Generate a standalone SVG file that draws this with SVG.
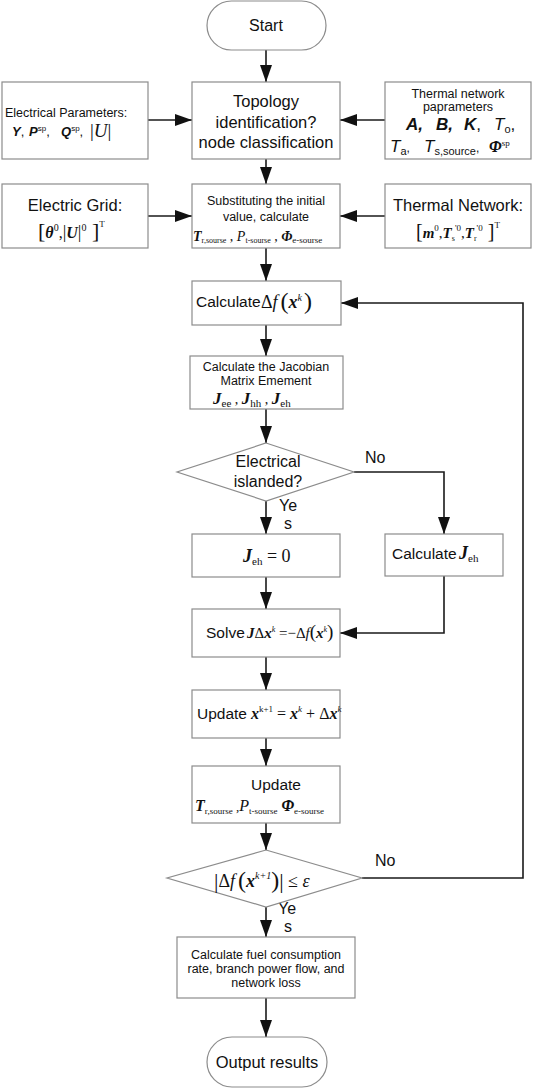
<svg xmlns="http://www.w3.org/2000/svg" width="533" height="1089" viewBox="0 0 533 1089">
<style>
.box{fill:#fff;stroke:#8c8c8c;stroke-width:1.2}
.ln{fill:none;stroke:#1a1a1a;stroke-width:1.6}
.s{font-family:"Liberation Sans",Arial,sans-serif;fill:#111}
.m{font-family:"Liberation Serif","Times New Roman",serif;fill:#111}
.bi{font-weight:bold;font-style:italic}
.it{font-style:italic}
.c{text-anchor:middle}
</style>
<defs>
<marker id="ah" markerUnits="userSpaceOnUse" viewBox="0 0 17 12" markerWidth="17" markerHeight="12" refX="17" refY="6" orient="auto">
<path d="M0,0 L17,6 L0,12 z" fill="#111"/>
</marker>
</defs>
<rect width="533" height="1089" fill="#fff"/>

<g id="connectors" class="ln" marker-end="url(#ah)">
<path d="M266,50 V82"/>
<path d="M148,120 H192"/>
<path d="M385,120 H340"/>
<path d="M266,159 V184"/>
<path d="M148,216 H192"/>
<path d="M385,216 H340"/>
<path d="M266,248 V281"/>
<path d="M266,325 V356"/>
<path d="M266,409 V443"/>
<path d="M266,501 V534"/>
<path d="M354,472 H444 V534"/>
<path d="M266,577 V609"/>
<path d="M444,576 V633 H340"/>
<path d="M266,657 V690"/>
<path d="M266,738 V766"/>
<path d="M266,823 V850"/>
<path d="M362,878 H523 V303 H341"/>
<path d="M266,907 V937"/>
<path d="M266,998 V1037"/>
</g>

<g id="labels">
<text class="s" x="365" y="463" font-size="16">No</text>
<text class="s" x="279" y="511" font-size="16">Ye</text>
<text class="s" x="284" y="529" font-size="16">s</text>
<text class="s" x="375" y="866" font-size="16">No</text>
<text class="s" x="278" y="914" font-size="16">Ye</text>
<text class="s" x="284" y="932" font-size="16">s</text>
</g>

<g id="start">
<rect class="box" x="207" y="1" width="119" height="49" rx="24.5"/>
<text class="s c" x="266" y="31" font-size="16">Start</text>
</g>

<g id="elec-params">
<rect class="box" x="2" y="82" width="146" height="77"/>
<text class="s" x="5" y="117" font-size="12.5">Electrical Parameters:</text>
<text class="s" y="136" font-size="13"><tspan class="bi" x="12">Y</tspan><tspan>, </tspan><tspan class="bi" x="29">P</tspan><tspan font-size="8" baseline-shift="5">sp</tspan><tspan>, </tspan><tspan class="bi" x="61">Q</tspan><tspan font-size="8" baseline-shift="5">sp</tspan><tspan>,</tspan></text>
<text class="m" x="90" y="137" font-size="19">|<tspan class="it">U</tspan>|</text>
</g>

<g id="topology">
<rect class="box" x="192" y="82" width="148" height="77"/>
<text class="s c" x="266" y="107" font-size="16.5">Topology</text>
<text class="s c" x="266" y="128" font-size="16.5">identification?</text>
<text class="s c" x="266" y="148" font-size="16.5">node classification</text>
</g>

<g id="thermal-params">
<rect class="box" x="385" y="82" width="146" height="77"/>
<text class="s c" x="458" y="98" font-size="12.5">Thermal network</text>
<text class="s c" x="458" y="111" font-size="12.5">paprameters</text>
<text class="s" y="130" font-size="17"><tspan class="bi" x="406">A,</tspan><tspan class="bi" x="436">B,</tspan><tspan class="bi" x="464">K</tspan><tspan>,</tspan><tspan class="it" x="494">T</tspan><tspan font-size="11" baseline-shift="-3">o</tspan><tspan>,</tspan></text>
<text class="s" y="152" font-size="17"><tspan class="it" x="390">T</tspan><tspan font-size="11" baseline-shift="-3">a</tspan><tspan font-size="12">,</tspan><tspan class="it" x="424">T</tspan><tspan font-size="11" baseline-shift="-3">s,source</tspan><tspan font-size="12">, </tspan></text>
<text class="m" x="489" y="152" font-size="16"><tspan class="bi">Φ</tspan><tspan font-size="9" baseline-shift="6">sp</tspan></text>
</g>

<g id="electric-grid">
<rect class="box" x="2" y="184" width="146" height="64"/>
<text class="s c" x="75" y="211" font-size="16.5">Electric Grid:</text>
<text class="m" x="38" y="238" font-size="16"><tspan font-size="22">[</tspan><tspan class="bi">θ</tspan><tspan font-size="10" baseline-shift="7">0</tspan><tspan>,</tspan><tspan font-size="18">|</tspan><tspan class="bi">U</tspan><tspan font-size="18">|</tspan><tspan font-size="10" baseline-shift="7">0</tspan><tspan font-size="22"> ]</tspan><tspan font-size="9" baseline-shift="11">T</tspan></text>
</g>

<g id="substituting">
<rect class="box" x="192" y="184" width="148" height="64"/>
<text class="s c" x="266" y="205" font-size="12.5">Substituting the initial</text>
<text class="s c" x="266" y="221" font-size="12.5">value,   calculate</text>
<text class="m" x="193" y="241" font-size="14"><tspan class="bi">T</tspan><tspan font-size="8" baseline-shift="-2">r,sourse</tspan><tspan>  ,  </tspan><tspan class="it">P</tspan><tspan font-size="8" baseline-shift="-2">t-sourse</tspan><tspan>   ,  </tspan><tspan class="bi">Φ</tspan><tspan font-size="9" baseline-shift="-2">e-sourse</tspan></text>
</g>

<g id="thermal-network">
<rect class="box" x="385" y="184" width="146" height="64"/>
<text class="s c" x="458" y="211" font-size="16.5">Thermal Network:</text>
<text class="m" x="416" y="238" font-size="15"><tspan font-size="20">[</tspan><tspan class="bi">m</tspan><tspan font-size="9" baseline-shift="7">0</tspan><tspan>,</tspan><tspan class="bi">T</tspan><tspan font-size="8" baseline-shift="-3">s</tspan><tspan font-size="9" baseline-shift="7">'0</tspan><tspan>,</tspan><tspan class="bi">T</tspan><tspan font-size="8" baseline-shift="-3">r</tspan><tspan font-size="9" baseline-shift="7">'0</tspan><tspan font-size="20"> ]</tspan><tspan font-size="9" baseline-shift="10">T</tspan></text>
</g>

<g id="calc-delta-f">
<rect class="box" x="192" y="281" width="149" height="44"/>
<text class="s" x="196" y="307" font-size="15.5">Calculate</text>
<text class="m" x="261" y="308" font-size="18">Δ<tspan class="it">f</tspan><tspan font-size="24" dx="3" dy="1">(</tspan><tspan class="bi" dy="-1">x</tspan><tspan class="it" font-size="10" baseline-shift="7">k</tspan><tspan font-size="24" dx="2" dy="1">)</tspan></text>
</g>

<g id="jacobian">
<rect class="box" x="190" y="356" width="153" height="53"/>
<text class="s c" x="266" y="371" font-size="12.5">Calculate the Jacobian</text>
<text class="s c" x="266" y="385" font-size="12.5">Matrix Emement</text>
<text class="m" x="213" y="404" font-size="17"><tspan class="bi">J</tspan><tspan font-size="11" baseline-shift="-3">ee</tspan><tspan font-size="14"> , </tspan><tspan class="bi">J</tspan><tspan font-size="11" baseline-shift="-3">hh</tspan><tspan font-size="14"> , </tspan><tspan class="bi">J</tspan><tspan font-size="11" baseline-shift="-3">eh</tspan></text>
</g>

<g id="islanded">
<polygon class="box" points="266,443 354,472 266,501 177,472"/>
<text class="s c" x="268" y="467" font-size="16">Electrical</text>
<text class="s c" x="268" y="487" font-size="16">islanded?</text>
</g>

<g id="jeh-zero">
<rect class="box" x="192" y="534" width="148" height="43"/>
<text class="m" x="243" y="562" font-size="18"><tspan class="bi">J</tspan><tspan font-size="11" baseline-shift="-3">eh</tspan><tspan> = 0</tspan></text>
</g>

<g id="calc-jeh">
<rect class="box" x="385" y="534" width="118" height="42"/>
<text class="s" x="392" y="559" font-size="15.5">Calculate</text>
<text class="m" x="459" y="559" font-size="18"><tspan class="bi">J</tspan><tspan font-size="11" baseline-shift="-3">eh</tspan></text>
</g>

<g id="solve">
<rect class="box" x="192" y="609" width="148" height="48"/>
<text class="s" x="206" y="638" font-size="15.5">Solve</text>
<text class="m" x="247" y="638" font-size="15"><tspan class="bi">J</tspan>Δ<tspan class="bi">x</tspan><tspan class="it" font-size="8" baseline-shift="6">k</tspan><tspan> =−Δ</tspan><tspan class="it">f</tspan><tspan font-size="19">(</tspan><tspan class="bi">x</tspan><tspan class="it" font-size="8" baseline-shift="6">k</tspan><tspan font-size="19">)</tspan></text>
</g>

<g id="update-x">
<rect class="box" x="192" y="690" width="148" height="48"/>
<text class="s" x="197" y="719" font-size="15.5">Update</text>
<text class="m" x="251" y="719" font-size="16"><tspan class="bi">x</tspan><tspan font-size="9" baseline-shift="7">k+1</tspan><tspan> = </tspan><tspan class="bi">x</tspan><tspan class="it" font-size="9" baseline-shift="7">k</tspan><tspan> + Δ</tspan><tspan class="bi">x</tspan><tspan class="it" font-size="9" baseline-shift="7">k</tspan></text>
</g>

<g id="update-sources">
<rect class="box" x="192" y="766" width="148" height="57"/>
<text class="s c" x="276" y="790" font-size="15.5">Update</text>
<text class="m" x="195" y="811" font-size="16"><tspan class="bi">T</tspan><tspan font-size="9" baseline-shift="-3">r,sourse</tspan><tspan font-size="13"> ,</tspan><tspan class="it">P</tspan><tspan font-size="9" baseline-shift="-3">t-sourse</tspan><tspan>  </tspan><tspan class="bi">Φ</tspan><tspan font-size="9" baseline-shift="-3">e-sourse</tspan></text>
</g>

<g id="converged">
<polygon class="box" points="266,850 362,878 266,907 167,878"/>
<text class="m" x="214" y="887" font-size="18"><tspan font-size="22" dy="1">|</tspan><tspan dy="-1">Δ</tspan><tspan class="it">f</tspan><tspan font-size="24" dx="3" dy="1">(</tspan><tspan class="bi" dy="-1">x</tspan><tspan class="it" font-size="10" baseline-shift="8">k+1</tspan><tspan font-size="24" dy="1">)</tspan><tspan font-size="22">|</tspan><tspan dy="-1"> ≤ </tspan><tspan class="it">ε</tspan></text>
</g>

<g id="final-calc">
<rect class="box" x="177" y="937" width="178" height="61"/>
<text class="s c" x="266" y="959" font-size="12.5">Calculate fuel consumption</text>
<text class="s c" x="266" y="973" font-size="12.5">rate,   branch power flow,   and</text>
<text class="s c" x="266" y="987" font-size="12.5">network loss</text>
</g>

<g id="output">
<rect class="box" x="207" y="1037" width="120" height="50" rx="25"/>
<text class="s c" x="267" y="1068" font-size="16.5">Output results</text>
</g>
</svg>
